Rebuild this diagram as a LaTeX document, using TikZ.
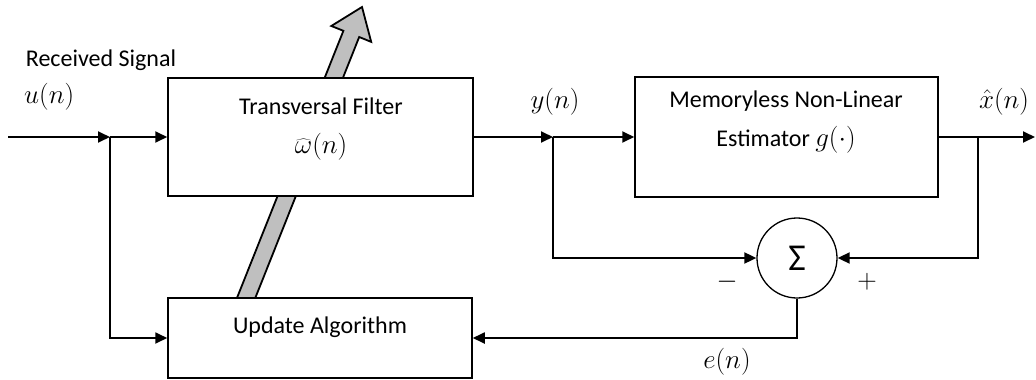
\RequirePackage{fix-cm}
\documentclass[tikz,border=0pt]{standalone}
\usepackage{fontspec}
\setmainfont{Carlito}
\usetikzlibrary{arrows.meta,calc}
\definecolor{adaptgray}{RGB}{191,191,191}
% larger size for the math symbols
\newcommand{\mathsz}{\fontsize{27}{39}\selectfont}

\begin{document}
\begin{tikzpicture}[x=1pt,y=-1pt,
  font=\fontsize{24}{39}\selectfont,
  wire/.style={line width=1.8pt},
  flow/.style={wire,-{Triangle[length=12pt,width=11pt]}},
  block/.style={draw,line width=1.5pt,fill=white,rectangle,inner sep=0pt},
  txt/.style={align=center,inner sep=0pt},
  mtxt/.style={txt,font=\mathsz},
]
\useasboundingbox (0,0) rectangle (1036,380);

% adaptation arrow: passes behind the filter block
\draw[line width=1.8pt,fill=adaptgray,line join=miter]
  (236.2,299.9) -- (343.4,30.8) -- (331.3,26.0) -- (362,7)
  -- (371.2,41.9) -- (359.2,37.0) -- (252.0,306.2) -- cycle;

% blocks
\node[block,minimum width=305pt,minimum height=118pt] (filter) at (320.5,137) {};
\node[txt] (filtertxt) at (321,129) {Transversal Filter\\{\mathsz$\widehat{\omega}(n)$}};

\node[block,minimum width=303pt,minimum height=120pt] (memo) at (786.5,137) {};
\node[txt] (memotxt) at (786,122) {Memoryless Non-Linear\\Estimator {\mathsz$g(\cdot)$}};

\node[block,minimum width=304pt,minimum height=80pt] (update) at (320,338) {};
\node[txt] (updatetxt) at (320,327) {Update Algorithm};

\node[draw,circle,line width=1.3pt,minimum size=80pt,inner sep=0pt,
      font=\fontsize{38}{38}\selectfont] (sum) at (797,258) {Σ};

% branch points
\coordinate (in) at (8,137);
\coordinate (ju) at (110,137);
\coordinate (jy) at (553,137);
\coordinate (jx) at (978,137);
\coordinate (out) at (1035,137);

% connectors
\draw[flow] (in) -- (ju);
\draw[flow] (ju) -- (filter.west);
\draw[flow] (ju) |- (update.west);
\draw[flow] (filter.east) -- (jy);
\draw[flow] (jy) -- (memo.west);
\draw[flow] (jy) |- (sum.west);
\draw[wire] (memo.east) -- (jx);
\draw[flow] (jx) -- (out);
\draw[flow] (jx) |- (sum.east);
\draw[flow] (sum.south) |- (update.east);

% signal labels
\node[txt] (rxlabel) at (101,60) {Received Signal};
\node[mtxt,anchor=west] (ulabel) at (24,97) {$u(n)$};
\node[mtxt] (ylabel) at (555,102) {$y(n)$};
\node[mtxt] (xlabel) at (1004,102) {$\hat{x}(n)$};
\node[mtxt] (elabel) at (727,362) {$e(n)$};
\node[mtxt] (minus) at (727,282) {$-$};
\node[mtxt] (plus) at (867,282) {$+$};
\end{tikzpicture}
\end{document}
